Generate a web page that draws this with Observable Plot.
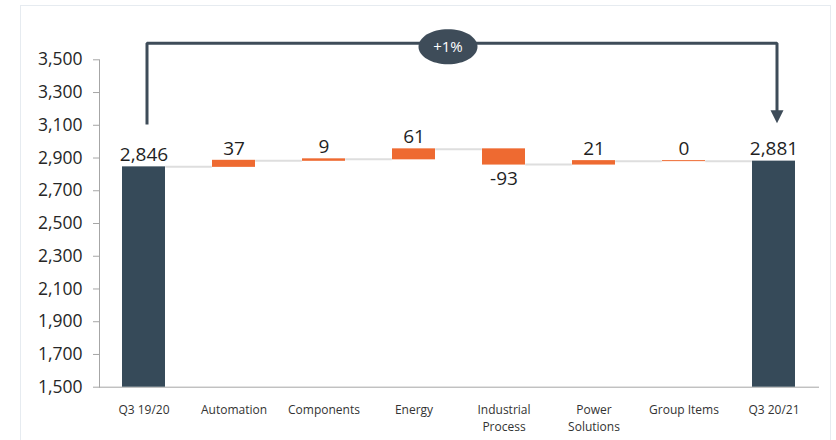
<!DOCTYPE html>
<html><head><meta charset="utf-8">
<script src="https://cdn.jsdelivr.net/npm/d3@7"></script>
<script src="https://cdn.jsdelivr.net/npm/@observablehq/plot@0.6"></script>
<style>
html,body{margin:0;padding:0;background:#fff;}
#wrap{position:relative;width:836px;height:440px;overflow:hidden;font-family:"Open Sans",sans-serif;}
#chart{position:absolute;left:0;top:0;}
#frame{position:absolute;left:20px;top:5px;width:809px;height:470px;border:1.5px solid #e6ebf0;pointer-events:none;}
</style></head><body>
<div id="wrap"><div id="chart"></div><div id="frame"></div></div>
<script>
// ---- data ----
const categories = ["Q3 19/20", "Automation", "Components", "Energy", "Industrial Process", "Power Solutions", "Group Items", "Q3 20/21"];
const tickLabels = ["Q3 19/20", "Automation", "Components", "Energy", "Industrial\nProcess", "Power\nSolutions", "Group Items", "Q3 20/21"];
const values = [2846, 37, 9, 61, -93, 21, 0, 2881];
const kinds = ["total", "delta", "delta", "delta", "delta", "delta", "delta", "total"];
const yTicks = [1500, 1700, 1900, 2100, 2300, 2500, 2700, 2900, 3100, 3300, 3500];
const changeLabel = ["+1%"];

// ---- derived table ----
const base = 1500;
let run = 0;
const rows = categories.map((c, i) => {
  const v = values[i];
  let y1, y2;
  if (kinds[i] === "total") { y1 = base; y2 = v; run = v; }
  else { y1 = run; y2 = run + v; run += v; }
  const label = kinds[i] === "total" ? d3.format(",")(v) : String(v);
  return {cat: c, kind: kinds[i], v, y1, y2, end: run, label,
          top: Math.max(y1, y2), bottom: Math.min(y1, y2)};
});
const connectors = rows.slice(0, -1).map((r, i) => ({from: r.cat, to: categories[i + 1], level: r.end}));
const labelMap = new Map(categories.map((c, i) => [c, tickLabels[i]]));

// annotation (bracket) levels, in data units
const bracket = [
  {cat: categories[0], y: 3105},
  {cat: categories[0], y: 3601},
  {cat: categories[7], y: 3601},
  {cat: categories[7], y: 3175}
];
const arrowTip = [{cat: categories[7], y: 3113}];
const bubble = [{cat: "Energy", y: 3580, text: changeLabel[0]}];

const dark = "#364a59", orange = "#ee6a31", grid = "#a6a6a6";
const W = 836, H = 440, mL = 99, mR = 17;
const pIn = 0.52, pOut = 0.26;
const bw = (W - mL - mR) / (categories.length - pIn + 2 * pOut) * (1 - pIn);
const fmt = d3.format(",");

const ellipse = {draw(ctx) {
  const rx = 29.5, ry = 17.5, k = 0.5523;
  ctx.moveTo(-rx, 0);
  ctx.bezierCurveTo(-rx, -ry * k, -rx * k, -ry, 0, -ry);
  ctx.bezierCurveTo(rx * k, -ry, rx, -ry * k, rx, 0);
  ctx.bezierCurveTo(rx, ry * k, rx * k, ry, 0, ry);
  ctx.bezierCurveTo(-rx * k, ry, -rx, ry * k, -rx, 0);
  ctx.closePath();
}};
const arrowDown = {draw(ctx) {
  ctx.moveTo(-6.5, -13); ctx.lineTo(6.5, -13); ctx.lineTo(0, 0); ctx.closePath();
}};

const chart = Plot.plot({
  width: W, height: H,
  marginTop: 59.3, marginBottom: 53.3, marginLeft: mL, marginRight: mR,
  style: {fontFamily: "'Open Sans', sans-serif", background: "transparent", overflow: "visible"},
  x: {domain: categories, paddingInner: pIn, paddingOuter: pOut, label: null},
  y: {domain: [1500, 3500], label: null},
  marks: [
    Plot.frame({anchor: "left", stroke: grid}),
    Plot.axisY({ticks: yTicks, tickFormat: d => fmt(d), tickSize: 6, tickPadding: 11, fontSize: 17.5, stroke: grid, fill: "#262626", label: null}),
    Plot.axisX({tickSize: 0, tickPadding: 15, fontSize: 12, lineHeight: 1.42, fill: "#333", tickFormat: d => labelMap.get(d), label: null}),
    Plot.ruleY(connectors, {x1: "from", x2: "to", y: "level", stroke: "#dedede", strokeWidth: 2, insetLeft: bw, insetRight: bw}),
    Plot.ruleY([1500], {stroke: grid}),
    Plot.rectY(rows.filter(d => d.kind === "total"), {x: "cat", y1: "y1", y2: "y2", fill: dark}),
    Plot.rectY(rows.filter(d => d.kind === "delta"), {x: "cat", y1: "y1", y2: "y2", fill: orange, insetTop: -0.5, insetBottom: -0.5}),
    Plot.text(rows.filter(d => d.v >= 0), {x: "cat", y: "top", text: "label", lineAnchor: "bottom", dy: -6, fontSize: 19, fill: "#1f1f1f"}),
    Plot.text(rows.filter(d => d.v < 0), {x: "cat", y: "bottom", text: "label", lineAnchor: "top", dy: 7, fontSize: 19, fill: "#1f1f1f"}),
    Plot.line(bracket, {x: "cat", y: "y", stroke: "#3e4c59", strokeWidth: 3, dx: 3, strokeLinejoin: "miter", strokeLinecap: "butt"}),
    Plot.dot(arrowTip, {x: "cat", y: "y", symbol: arrowDown, r: 6, fill: "#3e4c59", stroke: "none", dx: 3}),
    Plot.dot(bubble, {x: "cat", y: "y", symbol: ellipse, r: 20, fill: "#3e4c59", stroke: "none", dx: 34}),
    Plot.text(bubble, {x: "cat", y: "y", text: "text", fill: "#ffffff", fontSize: 15, dx: 34})
  ]
});
document.getElementById("chart").appendChild(chart);
</script>
</body></html>
